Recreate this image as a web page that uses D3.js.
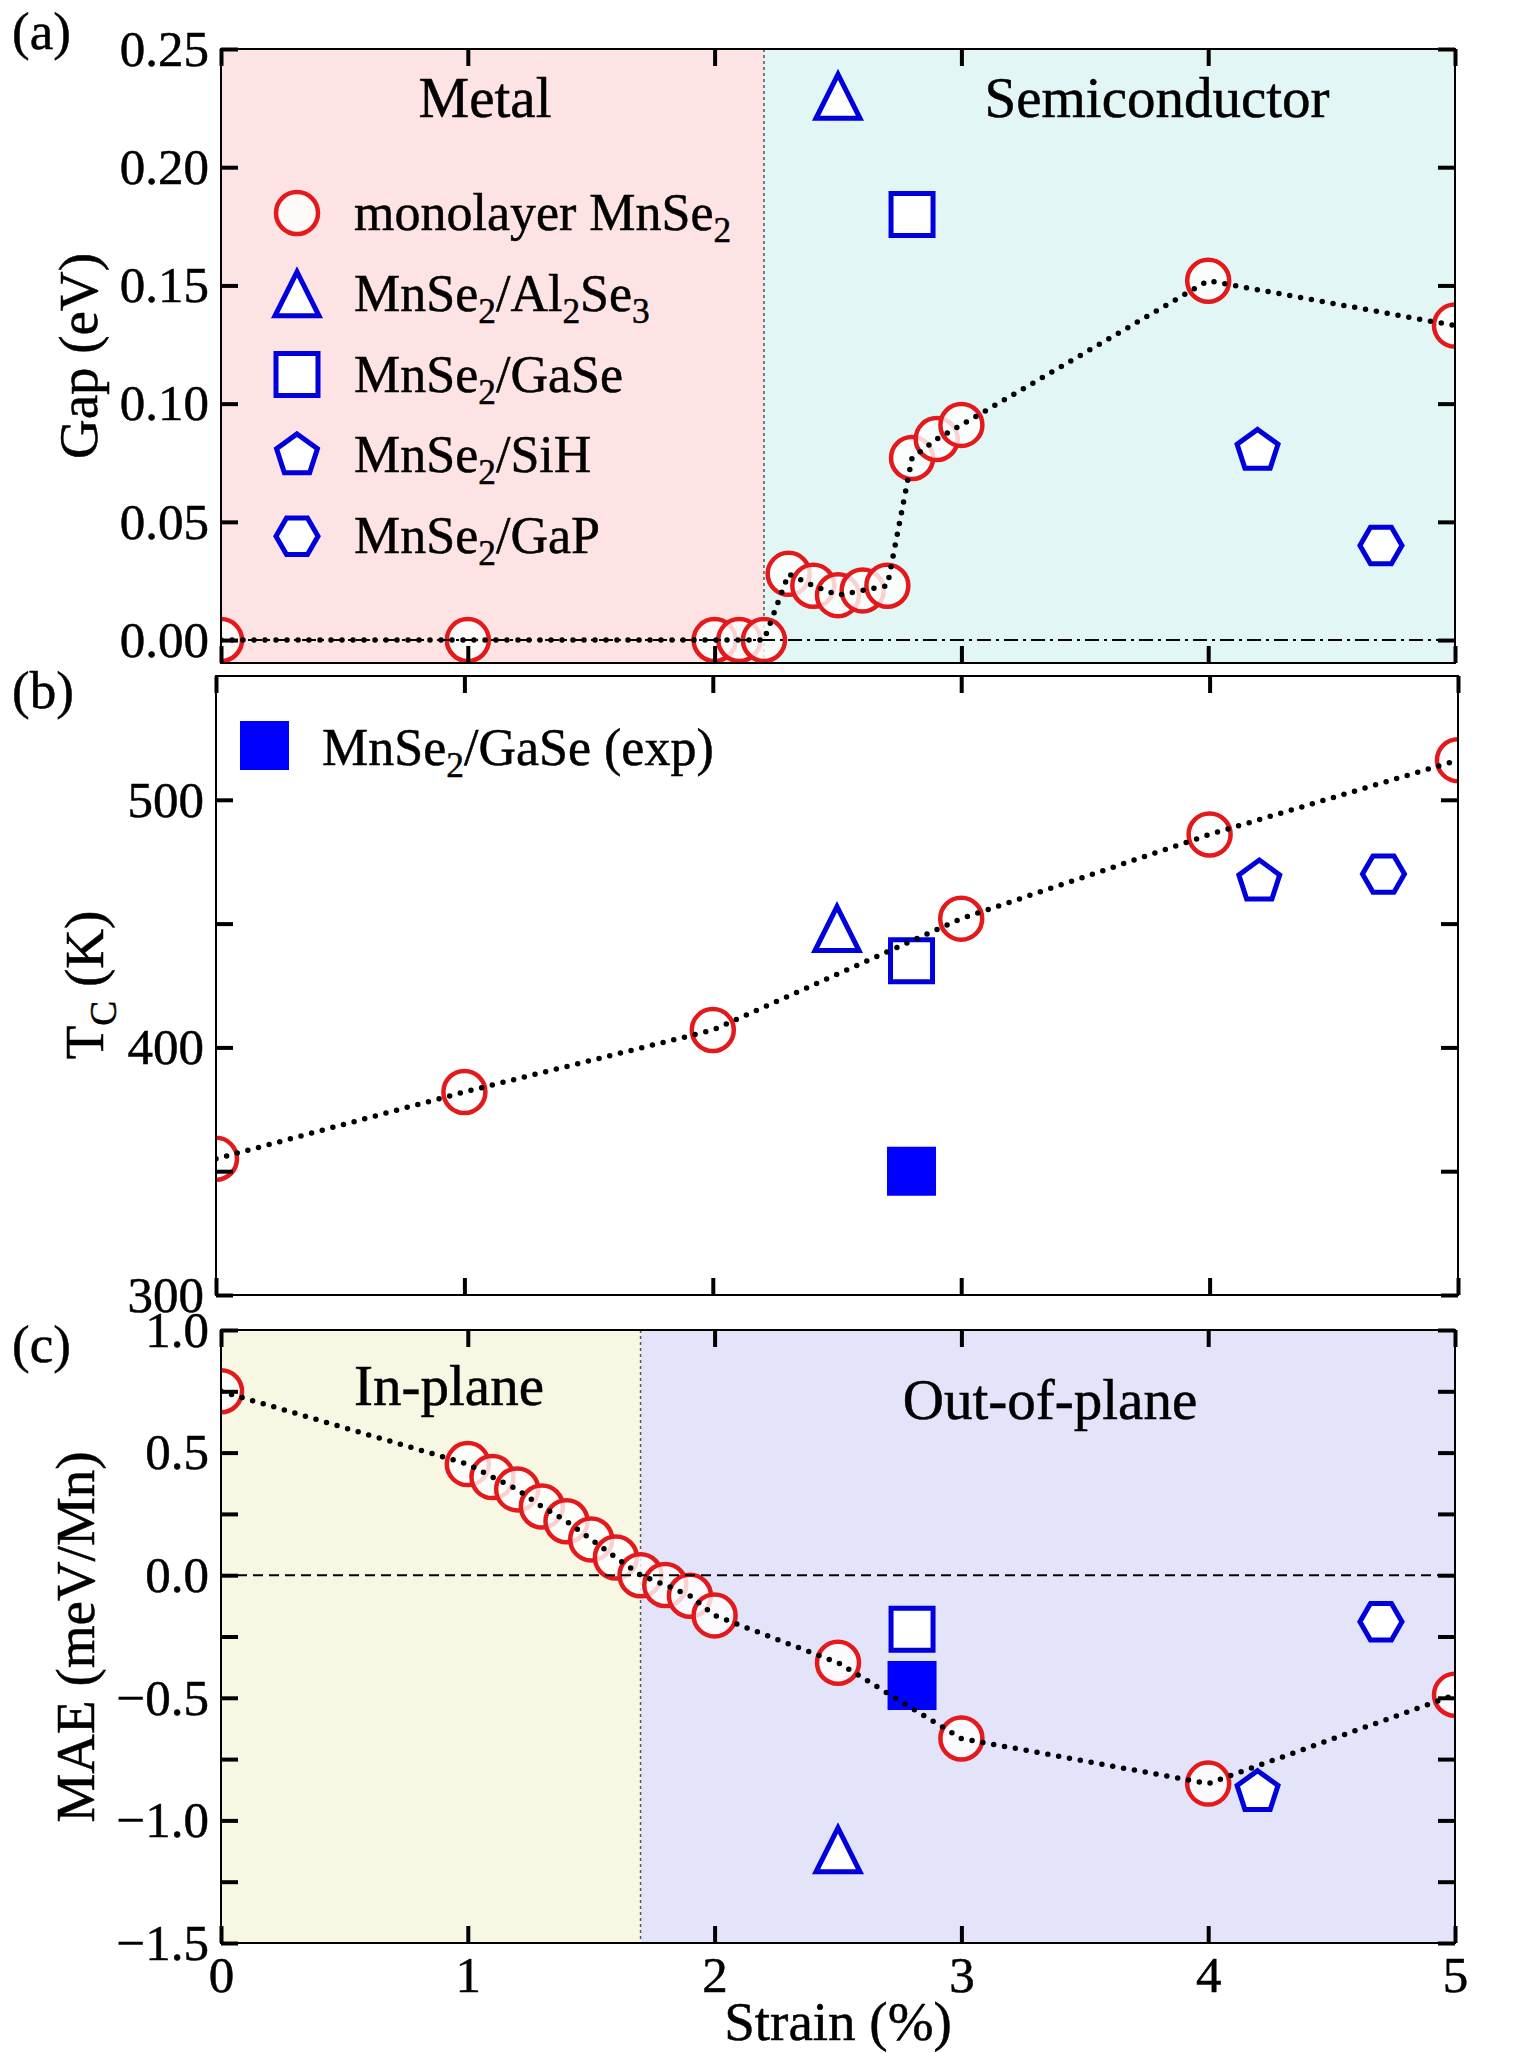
<!DOCTYPE html>
<html>
<head>
<meta charset="utf-8">
<script src="https://cdn.jsdelivr.net/npm/d3@7"></script>
<style>
  body { margin: 0; background: #fff; }
  svg { display: block; }
  text { font-family: "Liberation Serif", "Times New Roman", serif; fill: #000; stroke: #000; stroke-width: 0.5px; }
</style>
</head>
<body>
<script>
// ---- data ---------------------------------------------------------------
// (a) band gap of monolayer MnSe2 vs strain
var strainGap = [0, 1, 2, 2.1, 2.2, 2.3, 2.4, 2.5, 2.6, 2.7, 2.8, 2.9, 3, 4, 5]
var gapMono   = [0, 0, 0, 0, 0, 0.028, 0.023, 0.019, 0.021, 0.023, 0.077, 0.085, 0.091, 0.152, 0.133]

// (b) Curie temperature of monolayer MnSe2
var strainTc = [0, 1, 2, 3, 4, 5]
var tcMono   = [355, 382, 407, 452, 486, 516]

// (c) magnetic anisotropy energy of monolayer MnSe2
var strainMae = [0, 1, 1.1, 1.2, 1.3, 1.4, 1.5, 1.6, 1.7, 1.8, 1.9, 2, 2.5, 3, 4, 5]
var maeMono   = [0.75, 0.453, 0.40, 0.35, 0.28, 0.22, 0.146, 0.072, 0, -0.04, -0.084, -0.164, -0.357, -0.666, -0.85, -0.488]

// heterostructures (triangle, square, pentagon, hexagon)
var hetShapes = ["tri", "sq", "pent", "hex"]
var hetStrain = [2.5, 2.8, 4.2, 4.7]
var hetGap    = [0.23, 0.18, 0.08, 0.04]
var hetTc     = [448, 435, 467, 470]
var hetMae    = [-1.12, -0.22, -0.885, -0.19]

// experiment, MnSe2/GaSe
var expStrain = [2.8]
var expTc     = [350]
var expMae    = [-0.45]

// legend texts, "_x" = subscript x
var legendLabels = ["monolayer MnSe_2", "MnSe_2/Al_2Se_3", "MnSe_2/GaSe", "MnSe_2/SiH", "MnSe_2/GaP"]
var legendShapes = ["circ", "tri", "sq", "pent", "hex"]
var expLabel = "MnSe_2/GaSe (exp)"

// phase boundaries
var metalEdge = 2.2
var planeEdge = 1.7

// ---- setup --------------------------------------------------------------
var W = 1525, H = 2053
var RED = "#e3191c", BLUE = "#0000dc"

var svg = d3.select("body").append("svg").attr("width", W).attr("height", H)

var x    = d3.scaleLinear().domain([0, 5]).range([221, 1455])
var xB   = d3.scaleLinear().domain([0, 5]).range([216, 1458])
var yGap = d3.scaleLinear().domain([-0.0097, 0.25]).range([663, 49])
var yTc  = d3.scaleLinear().domain([300, 550]).range([1295, 676])
var yMae = d3.scaleLinear().domain([-1.5, 1.0]).range([1943, 1330])

// regular polygon path around 0,0
function poly(n, r, rot) {
  var pts = d3.range(n).map(function(i) {
    var a = rot + i * 2 * Math.PI / n
    return (r * Math.cos(a)).toFixed(2) + "," + (r * Math.sin(a)).toFixed(2)
  })
  return "M" + pts.join("L") + "Z"
}
var shapes = {
  tri:  "M0,-22L22,22L-22,22Z",
  sq:   "M-21,-21H21V21H-21Z",
  fsq:  "M-24.5,-24.5H24.5V24.5H-24.5Z",
  pent: poly(5, 21.5, -Math.PI / 2),
  hex:  poly(6, 21, 0)
}

function drawMarker(g, shape, cx, cy) {
  if (shape == "circ") {
    g.append("circle").attr("cx", cx).attr("cy", cy).attr("r", 21)
      .attr("fill", "#fff").attr("fill-opacity", 0.8)
      .attr("stroke", RED).attr("stroke-width", 4.5)
  } else if (shape == "fsq") {
    g.append("path").attr("d", shapes.fsq).attr("transform", "translate(" + cx + "," + cy + ")")
      .attr("fill", "#0000ff")
  } else {
    g.append("path").attr("d", shapes[shape]).attr("transform", "translate(" + cx + "," + cy + ")")
      .attr("fill", "#fff").attr("stroke", BLUE).attr("stroke-width", 5)
      .attr("stroke-linejoin", "miter")
  }
}

// text with "_x" subscripts
function richText(g, tx, ty, str, size, anchor) {
  var t = g.append("text").attr("x", tx).attr("y", ty)
    .attr("font-size", size).attr("text-anchor", anchor || "start")
  var parts = str.split(/_(.)/)
  var shift = Math.round(size * 0.24)
  var down = false
  parts.forEach(function(p, i) {
    if (p === "") return
    var sub = i % 2 == 1
    var ts = t.append("tspan").text(p)
    if (sub) { ts.attr("font-size", size * 0.68).attr("dy", down ? 0 : shift); down = true }
    else if (down) { ts.attr("dy", -shift); down = false }
  })
  return t
}

// panel: clip, background bands, returns groups
function makePanel(name, xs, ys, bands) {
  var r = xs.range(), d = ys.range()
  var g = svg.append("g")
  g.append("clipPath").attr("id", "clip-" + name).append("rect")
    .attr("x", r[0]).attr("y", d[1]).attr("width", r[1] - r[0]).attr("height", d[0] - d[1])
  var plot = g.append("g").attr("clip-path", "url(#clip-" + name + ")")
  bands.forEach(function(b) {
    plot.append("rect").attr("x", xs(b[0])).attr("y", d[1])
      .attr("width", xs(b[1]) - xs(b[0])).attr("height", d[0] - d[1]).attr("fill", b[2])
  })
  return { g: g, plot: plot }
}

function boundary(p, xs, ys, v) {
  p.plot.append("line").attr("x1", xs(v)).attr("x2", xs(v))
    .attr("y1", ys.range()[1]).attr("y2", ys.range()[0])
    .attr("stroke", "#555").attr("stroke-width", 1.5).attr("stroke-dasharray", "3 3")
}

function zeroLine(p, xs, ys, dash) {
  p.plot.append("line").attr("x1", xs.range()[0]).attr("x2", xs.range()[1])
    .attr("y1", ys(0)).attr("y2", ys(0))
    .attr("stroke", "#000").attr("stroke-width", 2).attr("stroke-dasharray", dash)
}

function dotted(p, xs, ys, sx, sy) {
  var line = d3.line().x(function(d) { return xs(d[0]) }).y(function(d) { return ys(d[1]) })
  p.plot.append("path").datum(d3.zip(sx, sy)).attr("d", line)
    .attr("fill", "none").attr("stroke", "#000").attr("stroke-width", 5.5)
    .attr("stroke-linecap", "round").attr("stroke-dasharray", "0 11")
}

function axes(p, xs, ys, yTicks, yFmt, xLabels) {
  var r = xs.range(), d = ys.range()
  var T = -17
  var left = p.g.append("g").attr("transform", "translate(" + r[0] + ",0)")
    .call(d3.axisLeft(ys).tickValues(yTicks).tickSize(T).tickPadding(12).tickFormat(yFmt))
  var right = p.g.append("g").attr("transform", "translate(" + r[1] + ",0)")
    .call(d3.axisRight(ys).tickValues(yTicks).tickSize(T).tickFormat(""))
  var top = p.g.append("g").attr("transform", "translate(0," + d[1] + ")")
    .call(d3.axisTop(xs).tickValues([0, 1, 2, 3, 4, 5]).tickSize(T).tickFormat(""))
  var bottom = p.g.append("g").attr("transform", "translate(0," + d[0] + ")")
    .call(d3.axisBottom(xs).tickValues([0, 1, 2, 3, 4, 5]).tickSize(T).tickPadding(13)
      .tickFormat(xLabels ? d3.format("d") : ""))
  ;[left, right, top, bottom].forEach(function(a) {
    a.select(".domain").remove()
    a.selectAll(".tick line").attr("stroke", "#000").attr("stroke-width", 4)
    a.selectAll("text").attr("font-size", 51).attr("font-family", "Liberation Serif, serif")
      .attr("fill", "#000").attr("stroke", "#000").attr("stroke-width", 0.5)
  })
  p.g.append("rect").attr("x", r[0]).attr("y", d[1]).attr("width", r[1] - r[0]).attr("height", d[0] - d[1])
    .attr("fill", "none").attr("stroke", "#000").attr("stroke-width", 2)
}

function yTitle(g, cx, cy, str) {
  var t = richText(g, 0, 0, str, 55, "middle")
  t.attr("transform", "translate(" + cx + "," + cy + ") rotate(-90)").attr("dy", "0.35em")
}

// ---- (a) gap ------------------------------------------------------------
var pa = makePanel("a", x, yGap, [[0, metalEdge, "#fde3e4"], [metalEdge, 5, "#e2f7f5"]])
boundary(pa, x, yGap, metalEdge)
for (var i = 0; i < hetShapes.length; i++) drawMarker(pa.plot, hetShapes[i], x(hetStrain[i]), yGap(hetGap[i]))
for (var i = 0; i < strainGap.length; i++) drawMarker(pa.plot, "circ", x(strainGap[i]), yGap(gapMono[i]))
zeroLine(pa, x, yGap, "14 5 3 5")
dotted(pa, x, yGap, strainGap, gapMono)

legendLabels.forEach(function(lab, i) {
  var cy = 213 + i * 80.8
  drawMarker(pa.g, legendShapes[i], 297, cy)
  richText(pa.g, 354, cy + 17, lab, 52)
})
pa.g.append("text").attr("x", 485).attr("y", 117).attr("font-size", 57).attr("text-anchor", "middle").text("Metal")
pa.g.append("text").attr("x", 1157).attr("y", 117).attr("font-size", 57).attr("text-anchor", "middle").text("Semiconductor")
axes(pa, x, yGap, [0, 0.05, 0.1, 0.15, 0.2, 0.25], d3.format(".2f"), false)
yTitle(pa.g, 78, 356, "Gap (eV)")

// ---- (b) Curie temperature ----------------------------------------------
var pb = makePanel("b", xB, yTc, [])
for (var i = 0; i < hetShapes.length; i++) drawMarker(pb.plot, hetShapes[i], xB(hetStrain[i]), yTc(hetTc[i]))
for (var i = 0; i < expStrain.length; i++) drawMarker(pb.plot, "fsq", xB(expStrain[i]), yTc(expTc[i]))
for (var i = 0; i < strainTc.length; i++) drawMarker(pb.plot, "circ", xB(strainTc[i]), yTc(tcMono[i]))
dotted(pb, xB, yTc, strainTc, tcMono)
drawMarker(pb.g, "fsq", 264.5, 745.5)
richText(pb.g, 322, 765, expLabel, 52)
axes(pb, xB, yTc, [300, 350, 400, 450, 500], function(d) { return d % 100 == 0 ? d : "" }, false)
yTitle(pb.g, 84, 985, "T_C (K)")

// ---- (c) MAE ------------------------------------------------------------
var pc = makePanel("c", x, yMae, [[0, planeEdge, "#f8f7e4"], [planeEdge, 5, "#e3e3fa"]])
boundary(pc, x, yMae, planeEdge)
for (var i = 0; i < hetShapes.length; i++) drawMarker(pc.plot, hetShapes[i], x(hetStrain[i]), yMae(hetMae[i]))
for (var i = 0; i < expStrain.length; i++) drawMarker(pc.plot, "fsq", x(expStrain[i]), yMae(expMae[i]))
for (var i = 0; i < strainMae.length; i++) drawMarker(pc.plot, "circ", x(strainMae[i]), yMae(maeMono[i]))
zeroLine(pc, x, yMae, "10 6")
dotted(pc, x, yMae, strainMae, maeMono)
pc.g.append("text").attr("x", 449).attr("y", 1405).attr("font-size", 57).attr("text-anchor", "middle").text("In-plane")
pc.g.append("text").attr("x", 1050).attr("y", 1419).attr("font-size", 57).attr("text-anchor", "middle").text("Out-of-plane")
var fmt1 = d3.format(".1f")
axes(pc, x, yMae, d3.range(-1.5, 1.01, 0.25), function(d) {
  return Math.abs(d * 2 - Math.round(d * 2)) < 1e-6 ? fmt1(d) : ""
}, true)
yTitle(pc.g, 75, 1637, "MAE (meV/Mn)")

svg.append("text").attr("x", x(2.5)).attr("y", 2040).attr("font-size", 55)
  .attr("text-anchor", "middle").text("Strain (%)")

// panel letters
svg.append("text").attr("x", 12).attr("y", 49).attr("font-size", 53).text("(a)")
svg.append("text").attr("x", 12).attr("y", 708).attr("font-size", 53).text("(b)")
svg.append("text").attr("x", 12).attr("y", 1362).attr("font-size", 53).text("(c)")
</script>
</body>
</html>
